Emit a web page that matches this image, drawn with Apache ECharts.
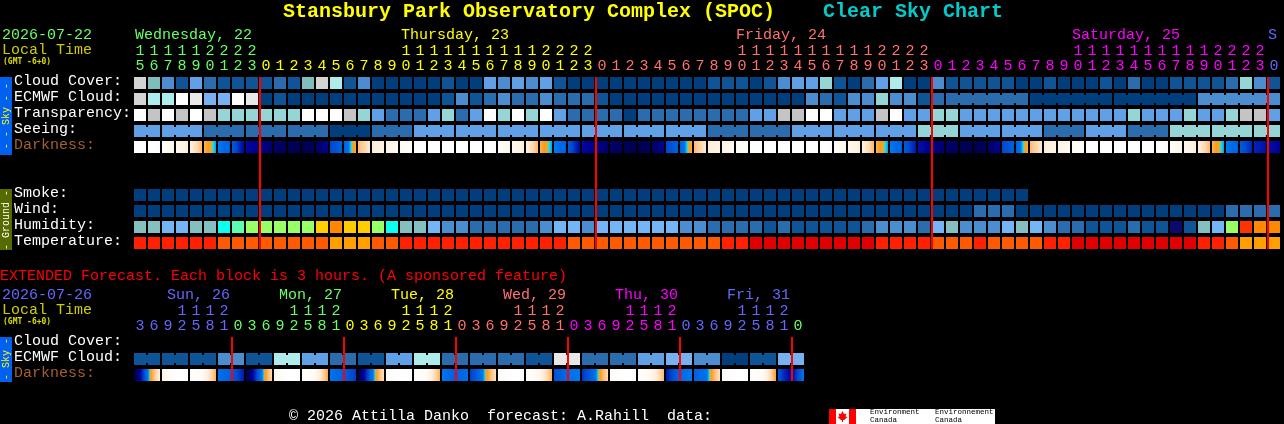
<!DOCTYPE html>
<html><head><meta charset="utf-8">
<style>html,body{margin:0;padding:0;background:#000}#c{width:1284px;height:424px}</style>
<script src="https://cdn.jsdelivr.net/npm/echarts@6/dist/echarts.min.js"></script>
</head><body><div id="c"></div>
<script>
const FONT = '"Liberation Mono","DejaVu Sans Mono",monospace';

const skyPalette = ['#003E7E','#0F5497','#2B6CAE','#4C8DD0','#60A0E6','#80BDBD','#AEEBEB','#E8E8E8','#D4D4D4','#FFFFFF','#78B0F0','#C4C4C4','#95D5D5'];
const humidityPalette = ['#0A0A6C','#0F5497','#2B6CAE','#4C8DD0','#75B5F5','#85BFBF','#0AFFEE','#5CFFB0','#99FF66','#FFCC00','#FF8800','#FF3300'];
const tempPalette = ['#E00000','#FF2000','#FF5A00','#FFA000'];
const dayColors = ['#66FF66','#FFFF00','#FF7070','#FF00FF','#6666FF'];
const extDayColors = ['#6666FF','#66FF66','#FFFF00','#FF7070','#FF00FF','#6666FF','#66FF66'];

const rowLabels = ['Cloud Cover:','ECMWF Cloud:','Transparency:','Seeing:','Darkness:','','','Smoke:','Wind:','Humidity:','Temperature:'];
const extRowLabels = ['Cloud Cover:','ECMWF Cloud:','Darkness:'];

const hours = [15,16,17,18,19,20,21,22,23,
 0,1,2,3,4,5,6,7,8,9,10,11,12,13,14,15,16,17,18,19,20,21,22,23,
 0,1,2,3,4,5,6,7,8,9,10,11,12,13,14,15,16,17,18,19,20,21,22,23,
 0,1,2,3,4,5,6,7,8,9,10,11,12,13,14,15,16,17,18,19,20,21,22,23,
 0];
const midnightCols = [9,33,57,81];

const cloudCover = [8,5,3,1,4,2,1,1,1,1,2,1,5,8,6,1,3,0,0,0,0,0,1,0,0,4,3,4,3,4,1,0,0,0,0,0,0,0,0,0,0,1,1,1,0,1,3,4,4,12,1,0,2,4,6,0,0,3,1,1,1,1,1,0,0,1,0,0,0,1,0,2,0,0,1,1,1,1,2,12,3,1];
const ecmwfCloud = [8,6,6,9,7,10,10,9,7,0,1,0,0,0,0,0,0,0,0,0,0,0,1,3,1,2,3,2,2,3,2,2,2,1,0,0,0,0,0,0,0,0,0,0,0,0,0,0,3,2,1,3,3,12,3,3,1,2,2,2,2,2,2,2,0,0,0,0,0,0,0,0,0,0,0,0,3,3,3,3,3,3];
const ecmwfSpans = [[58,63],[64,69],[70,75],[76,81]];
const transparency = [9,11,9,11,9,11,12,12,12,12,12,12,9,9,9,11,12,4,2,2,2,4,12,2,4,9,12,9,12,9,4,2,2,2,2,0,2,2,2,2,2,2,2,2,4,4,11,11,9,9,4,4,4,11,9,4,4,12,12,4,4,4,4,4,4,4,4,4,4,4,4,12,4,4,4,12,4,4,12,11,11,4];
const seeing = [4,4,4,4,4,2,2,2,2,2,2,2,2,2,0,0,0,2,2,2,4,4,4,4,4,4,4,4,4,4,4,4,4,4,4,4,4,4,4,4,4,2,2,2,2,2,2,4,4,4,4,4,4,4,4,4,12,12,12,4,4,4,4,4,4,2,2,2,4,4,4,2,2,2,12,12,12,12,12,12,12,12];
const seeingSpans = [[0,1],[2,4],[5,7],[8,10],[11,13],[14,16],[17,19],[20,22],[23,25],[26,28],[29,31],[32,34],[35,37],[38,40],[41,43],[44,46],[47,49],[50,52],[53,55],[56,58],[59,61],[62,64],[65,67],[68,70],[71,73],[74,76],[77,79],[80,81]];
const darkness = [
 [0,0],[0,1],[3,10],[8,16],[14,30],[32,42],[43,50],[52,70],[70,74],
 [76,80],[82,86],[88,90],[90,86],[84,72],[58,50],[50,33],[30,18],[16,12],[12,6],[5,1],[0,0],[0,0],[0,0],[0,0],[0,0],[0,1],[3,10],[8,16],[14,30],[32,42],[43,50],[52,70],[70,74],
 [76,80],[82,86],[88,90],[90,86],[84,72],[58,50],[50,33],[30,18],[16,12],[12,6],[5,1],[0,0],[0,0],[0,0],[0,0],[0,0],[0,1],[3,10],[8,16],[14,30],[32,42],[43,50],[52,66],[68,74],
 [76,80],[82,86],[88,90],[90,86],[84,72],[58,50],[50,33],[30,18],[16,12],[12,6],[5,1],[0,0],[0,0],[0,0],[0,0],[0,0],[0,1],[3,10],[8,16],[14,30],[32,42],[43,50],[52,64],[64,68],
 [68,72]];
const smoke = [0,0,0,0,0,0,0,0,0,0,0,0,0,0,0,0,0,0,0,0,0,0,0,0,0,0,0,0,0,0,0,0,0,0,0,0,0,0,0,0,0,0,0,0,0,0,0,0,0,0,0,0,0,0,0,0,0,0,0,0,0,0,0,0];
const wind = [0,0,0,0,0,0,0,0,0,0,0,0,0,0,0,0,0,0,0,0,0,0,0,0,0,0,0,0,0,0,0,0,0,0,0,0,0,0,0,0,0,0,0,0,0,0,0,0,0,0,0,0,0,0,0,0,0,0,0,0,2,2,2,0,0,0,0,0,0,0,0,0,0,0,0,0,0,0,2,2,2,2];
const humidity = [5,5,4,4,5,5,6,7,8,8,8,8,8,9,10,9,9,8,6,5,5,4,3,3,2,2,2,2,2,3,4,4,3,4,4,4,4,4,4,3,3,2,2,2,2,1,2,1,1,1,1,1,2,3,3,3,2,4,5,3,3,3,4,5,4,3,2,2,1,1,1,2,1,1,0,1,5,4,8,11,10,10];
const temperature = [1,1,1,1,1,1,2,2,2,2,2,2,2,2,3,3,3,2,2,1,1,1,1,1,1,1,1,1,1,1,1,2,2,2,2,2,2,2,2,2,2,2,1,1,0,0,0,0,0,0,0,0,0,1,1,1,1,2,2,2,1,2,2,2,2,1,1,0,0,0,0,0,0,0,0,0,1,1,2,3,3,3];

const extHours = [3,6,9,12,15,18,21,0,3,6,9,12,15,18,21,0,3,6,9,12,15,18,21,0,3,6,9,12,15,18,21,0,3,6,9,12,15,18,21,0,3,6,9,12,15,18,21,0];
const extMidnightCols = [7,15,23,31,39,47];
const extEcmwf = [1,1,1,3,1,6,4,2,1,4,6,2,2,2,1,7,2,2,4,10,3,0,1,10];
const extDarkness = [[95,46,14],[12,0,0],[0,6,32],[45,50,66],[95,50,22],[10,0,0],[0,6,34],[44,50,60],[90,48,20],[8,0,0],[0,6,32],[44,50,46],[60,43,20],[8,0,0],[0,8,32],[55,46,43],[62,45,22],[6,0,0],[0,8,30],[66,48,43],[50,44,20],[8,0,0],[0,6,35],[55,72,44]];

const dayLabels = [['Wednesday, 22',135,0],['Thursday, 23',401,1],['Friday, 24',736,2],['Saturday, 25',1072,3],['S',1268,4]];
const extDayLabels = [['Sun, 26',167,0],['Mon, 27',279,1],['Tue, 28',391,2],['Wed, 29',503,3],['Thu, 30',615,4],['Fri, 31',727,5]];

const rampStops = [[0,[255,255,255]],[6,[255,250,244]],[14,[255,241,224]],[22,[255,221,181]],[30,[255,184,112]],[36,[255,154,16]],[38,[240,170,40]],[40,[0,224,255]],[43,[0,120,240]],[50,[0,96,224]],[58,[0,72,208]],[66,[0,24,176]],[72,[0,0,152]],[80,[0,0,112]],[90,[0,0,80]],[100,[0,0,64]]];
function ramp(v){
  for(let i=1;i<rampStops.length;i++){
    const a=rampStops[i-1],b=rampStops[i];
    if(v<=b[0]){const t=(v-a[0])/(b[0]-a[0]||1);
      return 'rgb('+a[1].map((c,k)=>Math.round(c+(b[1][k]-c)*t)).join(',')+')';}
  }
  return 'rgb(0,0,64)';
}
function gradient(samples){
  const stops=[],N=12*(samples.length-1);
  for(let s=0;s<samples.length-1;s++){
    for(let k=0;k<=12;k++){
      const v=samples[s]+(samples[s+1]-samples[s])*k/12;
      stops.push({offset:(s*12+k)/N,color:ramp(v)});
    }
  }
  return {type:'linear',x:0,y:0,x2:1,y2:0,colorStops:stops};
}
function dayIndex(col,mids){let d=0;for(const m of mids){if(col>=m)d++;}return d;}
function tens(h){return h>=10?String(Math.floor(h/10)):'';}

function row(values,rowIdx,palette,spans){
  const data=values.map((v,i)=>[i,rowIdx,v]);
  const inSpan=(i)=>spans&&spans.some(s=>i>=s[0]&&i<s[1]);
  return {type:'custom',xAxisIndex:0,yAxisIndex:0,silent:true,clip:false,z:2,
    data,encode:{x:0,y:1},
    renderItem(p,api){
      const c=api.coord([api.value(0),api.value(1)]),sz=api.size([1,1]);
      const w=sz[0]-2,h=sz[1]-4,col=api.value(0),fill=palette[api.value(2)];
      const kids=[{type:'rect',shape:{x:c[0]-w/2,y:c[1]-h/2,width:w,height:h},style:{fill}}];
      if(inSpan(col))kids.push({type:'rect',shape:{x:c[0]+w/2,y:c[1]-4,width:2,height:8},style:{fill}});
      return {type:'group',children:kids};
    }};
}
function darknessRow(pairs,rowIdx){
  return {type:'custom',xAxisIndex:0,yAxisIndex:0,silent:true,clip:false,z:2,
    data:pairs.map((p,i)=>[i,rowIdx,p[0],p[1]]),encode:{x:0,y:1},
    renderItem(p,api){
      const c=api.coord([api.value(0),api.value(1)]),sz=api.size([1,1]);
      const w=sz[0]-2,h=sz[1]-4;
      return {type:'rect',shape:{x:c[0]-w/2,y:c[1]-h/2,width:w,height:h},style:{fill:gradient([api.value(2),api.value(3)])}};
    }};
}
function extBlocks(rowIdx,values,palette){
  return {type:'custom',xAxisIndex:2,yAxisIndex:1,silent:true,clip:false,z:2,
    data:values.map((v,i)=>[i*2,rowIdx,v]),encode:{x:0,y:1},
    renderItem(p,api){
      const c=api.coord([api.value(0),api.value(1)]),sz=api.size([1,1]);
      const h=sz[1]-4,w=sz[0]-2,fill=palette[api.value(2)];
      const left=c[0]-w/2;
      return {type:'group',children:[
        {type:'rect',shape:{x:left,y:c[1]-h/2,width:w,height:h},style:{fill}},
        {type:'rect',shape:{x:left+w,y:c[1]-4,width:2,height:8},style:{fill}},
        {type:'rect',shape:{x:left+w+2,y:c[1]-h/2,width:w,height:h},style:{fill}}
      ]};
    }};
}
function extDarkBlocks(rowIdx){
  return {type:'custom',xAxisIndex:2,yAxisIndex:1,silent:true,clip:false,z:2,
    data:extDarkness.map((v,i)=>[i*2,rowIdx,v[0],v[1],v[2]]),encode:{x:0,y:1},
    renderItem(p,api){
      const c=api.coord([api.value(0),api.value(1)]),sz=api.size([1,1]);
      const h=sz[1]-4,w=sz[0]*2-2;
      return {type:'rect',shape:{x:c[0]-sz[0]/2+1,y:c[1]-h/2,width:w,height:h},
        style:{fill:gradient([api.value(2),api.value(3),api.value(4)])}};
    }};
}
function redLines(cols,xIdx,yIdx,firstRow,lastRow){
  return {type:'custom',xAxisIndex:xIdx,yAxisIndex:yIdx,silent:true,clip:false,z:20,
    data:cols.map(c=>[c,firstRow]),encode:{x:0,y:1},
    renderItem(p,api){
      const c=api.coord([api.value(0),firstRow]),e=api.coord([api.value(0),lastRow]),sz=api.size([1,1]);
      const x=c[0]-sz[0]/2,top=c[1]-sz[1]/2+2,bot=e[1]+sz[1]/2-2;
      return {type:'rect',z2:100,shape:{x:x,y:top,width:2,height:bot-top},style:{fill:'#FF0000'}};
    }};
}
function catAxis(grid,labels,colorFn,offset){
  return {type:'category',gridIndex:grid,position:'top',offset,data:labels,
    axisLine:{show:false},axisTick:{show:false},splitLine:{show:false},
    axisLabel:{show:true,interval:0,hideOverlap:false,margin:1,fontFamily:FONT,fontSize:15,color:colorFn}};
}
function hiddenX(grid){
  return {type:'category',gridIndex:grid,show:false,data:['']};
}
function plainY(grid,labels){
  return {type:'category',gridIndex:grid,inverse:true,data:labels,show:false};
}
function labelY(grid,labels){
  return {type:'category',gridIndex:grid,inverse:true,data:labels,
    axisLine:{show:false},axisTick:{show:false},splitLine:{show:false},
    axisLabel:{show:true,interval:0,align:'left',margin:119,fontFamily:FONT,fontSize:15,
      color:(v)=>v==='Darkness:'?'#A65F2E':'#FFFFFF'}};
}
function txt(text,x,y,fill,size,weight,family){
  return {type:'text',x,y,silent:true,z:10,style:{text,fill,font:(weight||'normal')+' '+size+'px '+(family||FONT),textVerticalAlign:'middle',textBaseline:'middle'}};
}
function band(x,y,w,h,fill){return {type:'rect',silent:true,z:9,shape:{x,y,width:w,height:h},style:{fill}};}
function vtxt(text,cx,cy,fill){
  return {type:'text',x:cx,y:cy,rotation:Math.PI/2,silent:true,z:10,style:{text,fill,font:'10px '+FONT,textAlign:'center',textVerticalAlign:'middle',textBaseline:'middle'}};
}

const graphics=[
  txt('Stansbury Park Observatory Complex (SPOC)',283,12,'#FFFF00',20,'bold'),
  txt('Clear Sky Chart',823,12,'#00CCCC',20,'bold'),
  txt('2026-07-22',2,35,'#66FF66',15),
  txt('Local Time',2,50,'#CCCC00',15),
  txt('(GMT -6+0)',3,62,'#DDDD00',8,'bold','"DejaVu Sans Mono"'),
  txt('EXTENDED Forecast. Each block is 3 hours. (A sponsored feature)',0,276,'#FF0000',15),
  txt('2026-07-26',2,295,'#6666FF',15),
  txt('Local Time',2,310,'#CCCC00',15),
  txt('(GMT -6+0)',3,322,'#DDDD00',8,'bold','"DejaVu Sans Mono"'),
  txt('\u00A9 2026 Attilla Danko  forecast: A.Rahill  data:',289,416,'#FFFFFF',15),
  band(0,77,12,78,'#0060F0'),
  vtxt('- - Sky - -',6,116,'#FFFF00'),
  band(0,189,12,61,'#556B00'),
  vtxt('- Ground -',6,220,'#FFFFFF'),
  band(0,337,12,45,'#0060F0'),
  vtxt('- Sky -',6,359,'#FFFF00'),
  band(829,409,166,15,'#FFFFFF'),
  band(829,409,7,15,'#FF0000'),
  band(849,409,7,15,'#FF0000'),
  {type:'polygon',silent:true,z:10,shape:{points:[[842.5,411],[844,414],[846.5,413.5],[845.5,416.5],[847.5,417],[844,420],[843,420],[843,422],[842,422],[842,420],[841,420],[837.5,417],[839.5,416.5],[838.5,413.5],[841,414]]},style:{fill:'#FF0000'}},
  txt('Environment',870,412.5,'#000000',7.5),
  txt('Canada',870,420.5,'#000000',7.5),
  txt('Environnement',935,412.5,'#000000',7.5),
  txt('Canada',935,420.5,'#000000',7.5)
];
dayLabels.forEach(d=>graphics.push(txt(d[0],d[1],35,dayColors[d[2]],15)));
extDayLabels.forEach(d=>graphics.push(txt(d[0],d[1],295,extDayColors[d[2]],15)));

const chart=echarts.init(document.getElementById('c'),null,{renderer:'canvas'});
chart.setOption({
  animation:false,backgroundColor:'#000',
  grid:[{left:133,top:75,width:1148,height:176},{left:133,top:335,width:672,height:48},
        {left:133,top:73,width:1148,height:176},{left:133,top:333,width:672,height:48}],
  xAxis:[
    catAxis(0,hours.map(h=>String(h%10)),(v,i)=>dayColors[dayIndex(i,midnightCols)],0),
    catAxis(0,hours.map(tens),(v,i)=>dayColors[dayIndex(i,midnightCols)],15),
    catAxis(1,extHours.map(h=>String(h%10)),(v,i)=>extDayColors[dayIndex(i,extMidnightCols)],0),
    catAxis(1,extHours.map(tens),(v,i)=>extDayColors[dayIndex(i,extMidnightCols)],15),
    hiddenX(2),hiddenX(3)
  ],
  yAxis:[plainY(0,rowLabels),plainY(1,extRowLabels),labelY(2,rowLabels),labelY(3,extRowLabels)],
  graphic:{elements:graphics},
  series:[
    row(cloudCover,0,skyPalette),
    row(ecmwfCloud,1,skyPalette,ecmwfSpans),
    row(transparency,2,skyPalette),
    row(seeing,3,skyPalette,seeingSpans),
    darknessRow(darkness,4),
    row(smoke,7,skyPalette),
    row(wind,8,skyPalette),
    row(humidity,9,humidityPalette),
    row(temperature,10,tempPalette),
    extBlocks(1,extEcmwf,skyPalette),
    extDarkBlocks(2),
    redLines(midnightCols,0,0,0,10),
    redLines(extMidnightCols,2,1,0,2)
  ]
});
</script></body></html>
